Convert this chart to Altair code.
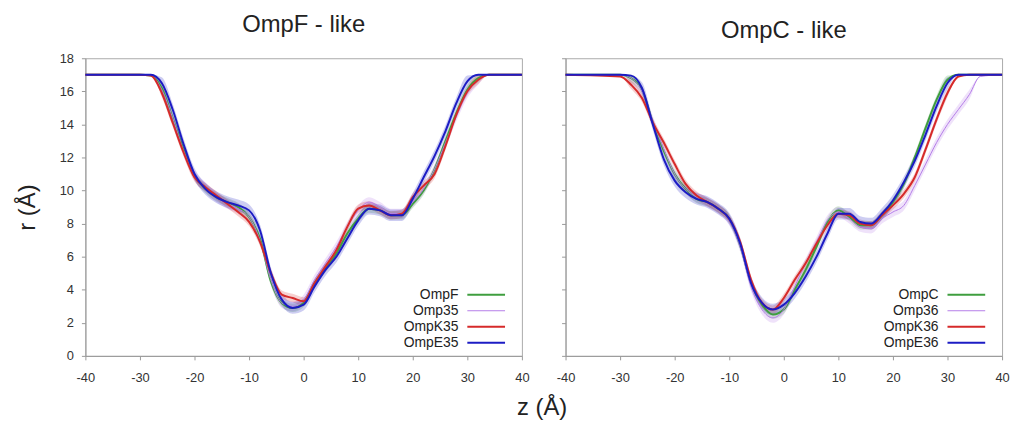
import altair as alt
import pandas as pd

# ---------------- data ----------------
Z = [-40, -30, -28, -26, -24, -22, -20, -18, -16, -14, -12, -10, -8, -6, -4, -2, 0,
     2, 4, 6, 8, 10, 12, 14, 16, 18, 20, 22, 24, 26, 28, 30, 32, 34, 36, 40]

# OmpF - like panel
OmpF = [17, 17, 16.95, 16.2, 14.4, 12.5, 10.9, 10.1, 9.6, 9.3, 9.0, 8.4, 7.1, 4.5, 3.2, 2.9, 3.2,
        4.4, 5.3, 6.2, 7.4, 8.3, 8.9, 8.8, 8.5, 8.5, 9.2, 10.0, 11.3, 13.0, 14.7, 16.1, 16.8, 17, 17, 17]
Omp35 = [17, 17, 16.95, 16.1, 14.4, 12.4, 10.9, 10.2, 9.6, 9.2, 8.9, 8.4, 7.0, 4.6, 3.2, 3.0, 3.4,
         4.6, 5.6, 6.6, 7.8, 8.8, 9.3, 9.0, 8.6, 8.6, 9.3, 10.1, 11.3, 12.9, 14.5, 15.9, 16.7, 17, 17, 17]
OmpK35 = [17, 17, 16.95, 15.9, 14.1, 12.3, 10.8, 10.2, 9.7, 9.2, 8.7, 8.1, 6.9, 5.0, 3.7, 3.5, 3.3,
          4.4, 5.4, 6.4, 7.8, 8.9, 9.1, 8.8, 8.5, 8.6, 9.6, 10.3, 11.0, 12.7, 14.6, 16.0, 16.7, 17, 17, 17]
OmpE35 = [17, 17, 17, 16.5, 14.9, 12.8, 11.0, 10.1, 9.6, 9.3, 9.1, 8.8, 7.6, 5.0, 3.4, 2.9, 3.1,
          4.2, 5.2, 6.0, 7.1, 8.2, 8.9, 8.8, 8.5, 8.5, 9.5, 10.8, 12.1, 13.6, 15.3, 16.6, 17, 17, 17, 17]

# OmpC - like panel
OmpC = [17, 17, 16.8, 16.1, 14.1, 12.4, 11.0, 10.1, 9.5, 9.3, 8.9, 8.3, 6.7, 4.4, 3.1, 2.5, 2.8,
        4.0, 5.2, 6.6, 8.1, 8.8, 8.4, 7.9, 7.9, 8.5, 9.3, 10.4, 12.0, 13.8, 15.5, 16.7, 17, 17, 17, 17]
Omp36 = [17, 17, 16.8, 16.0, 14.2, 12.5, 11.0, 10.1, 9.6, 9.3, 8.9, 8.2, 6.6, 4.2, 2.8, 2.3, 2.8,
         4.2, 5.6, 6.9, 8.2, 8.7, 8.3, 7.8, 7.7, 8.3, 8.7, 9.1, 10.3, 11.6, 12.9, 14.0, 14.9, 15.8, 16.9, 17]
OmpK36 = [17, 16.9, 16.4, 15.6, 14.1, 12.9, 11.6, 10.4, 9.7, 9.3, 8.9, 8.3, 6.9, 4.6, 3.2, 2.8, 3.5,
          4.6, 5.6, 6.8, 7.9, 8.6, 8.5, 8.0, 7.9, 8.5, 9.1, 9.8, 10.8, 12.5, 14.3, 15.9, 16.9, 17, 17, 17]
OmpE36 = [17, 17, 16.95, 16.2, 14.0, 11.9, 10.6, 9.9, 9.5, 9.3, 8.9, 8.3, 6.8, 4.4, 3.2, 2.8, 3.1,
          3.8, 4.8, 6.0, 7.4, 8.6, 8.6, 8.1, 8.0, 8.6, 9.4, 10.5, 11.8, 13.4, 15.1, 16.5, 17, 17, 17, 17]

# half-width of the shaded band of each series
BAND = [0.25, 0.3, 0.25, 0.35]

LEFT_NAMES = ["OmpF", "Omp35", "OmpK35", "OmpE35"]
RIGHT_NAMES = ["OmpC", "Omp36", "OmpK36", "OmpE36"]
LEFT_VALUES = [OmpF, Omp35, OmpK35, OmpE35]
RIGHT_VALUES = [OmpC, Omp36, OmpK36, OmpE36]

COLORS = ["#3f9e3f", "#b47ce8", "#d62a2a", "#1c1cc4"]
WIDTHS = [2, 1, 2, 2]

FONT = "Liberation Sans"
W = 440


def panel(title, names, values, show_y_labels):
    rows = []
    for name, vals, bw, col, sw in zip(names, values, BAND, COLORS, WIDTHS):
        for z, r in zip(Z, vals):
            h = bw if r < 16.9 else 0.0
            rows.append({"series": name, "col": col, "sw": sw, "z": z, "r": r,
                         "lo": r - h, "hi": min(r + h, 17.0)})
    df = pd.DataFrame(rows)
    leg = pd.DataFrame({"series": names, "col": COLORS, "sw": WIDTHS,
                        "ly": [3.7 - i * 0.97 for i in range(len(names))]})

    color = alt.Color("col:N", scale=None)
    width = alt.StrokeWidth("sw:Q", scale=None)

    xscale = alt.Scale(domain=[-40, 40], nice=False, zero=False)
    yscale = alt.Scale(domain=[0, 18], nice=False)

    xaxis = alt.Axis(values=list(range(-40, 41, 10)), title=None, grid=False,
                     labelExpr="toString(datum.value)", labelFlush=False,
                     tickSize=4, labelFontSize=13, labelColor="#333", labelPadding=12,
                     domainColor="#999", tickColor="#999")
    if show_y_labels:
        yaxis = alt.Axis(values=list(range(0, 19, 2)), title="r (Å)", grid=False,
                         tickSize=4, labelFontSize=13, labelColor="#333", labelPadding=8,
                         titleFontSize=24, titleFontWeight="normal", titleColor="#222",
                         titlePadding=20, domainColor="#999", tickColor="#999")
    else:
        yaxis = alt.Axis(values=list(range(0, 19, 2)), title=None, grid=False, labels=False,
                         tickSize=4, domainColor="#999", tickColor="#999")

    X = alt.X("z:Q", scale=xscale, axis=xaxis)
    base = alt.Chart(df)
    band = base.mark_area(opacity=0.22, interpolate="monotone").encode(
        x=X, y=alt.Y("lo:Q", scale=yscale, axis=yaxis), y2="hi:Q", color=color,
        detail="series:N")
    line = base.mark_line(interpolate="monotone").encode(
        x=X, y=alt.Y("r:Q", scale=yscale, axis=yaxis), color=color, strokeWidth=width,
        detail="series:N")

    text = alt.Chart(leg).mark_text(align="right", baseline="middle", fontSize=14,
                                    font=FONT, color="#222").encode(
        x=alt.value(W - 64), y=alt.Y("ly:Q", scale=yscale, axis=yaxis), text="series:N")
    rule = alt.Chart(leg).mark_rule().encode(
        x=alt.value(W - 55), x2=alt.value(W - 17), y=alt.Y("ly:Q", scale=yscale, axis=yaxis),
        color=color, strokeWidth=width)

    return alt.layer(band, line, text, rule).properties(
        width=W, height=300,
        title=alt.TitleParams(title, fontSize=24, fontWeight="normal", color="#222",
                              font=FONT, offset=15))


left = panel("OmpF - like", LEFT_NAMES, LEFT_VALUES, True)
right = panel("OmpC - like", RIGHT_NAMES, RIGHT_VALUES, False)

chart = alt.hconcat(left, right, spacing=44, bounds="flush").properties(
    padding={"left": 7, "top": 3, "right": 0, "bottom": 0},
    title=alt.TitleParams("z (Å)", orient="bottom", anchor="middle", fontSize=24,
                          fontWeight="normal", color="#222", font=FONT, offset=11, dx=30)
).configure(font=FONT).configure_view(stroke="#aaaaaa").configure_axis(labelFont=FONT, titleFont=FONT)

chart.save("out.html", embed_options={"renderer": "svg", "actions": False})
